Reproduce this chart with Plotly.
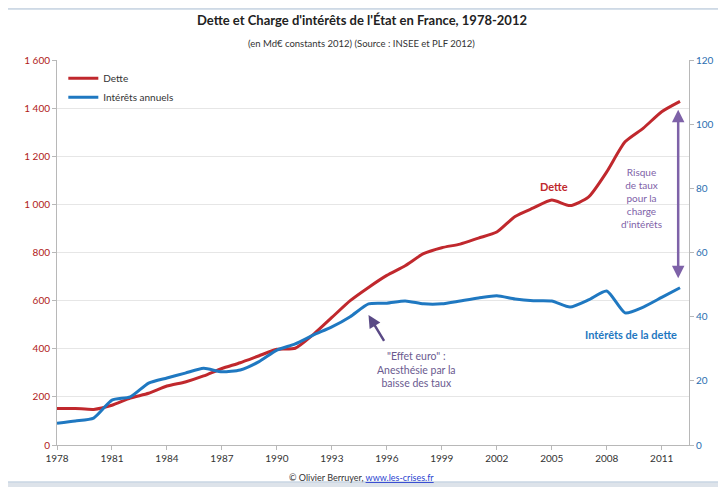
import plotly.graph_objects as go

years = list(range(1978, 2013))
dette = [152, 152, 148, 165, 195, 215, 245, 262, 287, 318, 342, 370, 398, 402,
         460, 530, 600, 655, 705, 745, 795, 820, 835, 860, 885, 950, 985, 1018,
         995, 1030, 1135, 1260, 1317, 1385, 1428]
interets = [6.8, 7.5, 8.4, 14.0, 15.0, 19.3, 20.9, 22.4, 23.9, 22.8, 23.4, 25.9,
            29.6, 31.5, 34.3, 36.8, 40.0, 44.0, 44.2, 44.9, 44.0, 44.0, 44.9, 45.8,
            46.5, 45.5, 45.0, 44.9, 43.0, 45.2, 48.0, 41.2, 43.0, 46.0, 49.0]

x_ticks = list(range(1978, 2012, 3))
left_ticks = [0, 200, 400, 600, 800, 1000, 1200, 1400, 1600]
left_labels = ["0", "200", "400", "600", "800", "1 000", "1 200", "1 400", "1 600"]
right_ticks = [0, 20, 40, 60, 80, 100, 120]

RED = "#C0282D"
BLUE = "#1F78C1"
PURPLE = "#7E62A8"
FONT = "Lato"

fig = go.Figure()
fig.add_trace(go.Scatter(x=years, y=dette, name="Dette", mode="lines",
                         line=dict(color=RED, width=3, shape="spline", smoothing=0.6)))
fig.add_trace(go.Scatter(x=years, y=interets, name="Intérêts annuels", mode="lines",
                         yaxis="y2",
                         line=dict(color=BLUE, width=3, shape="spline", smoothing=0.6)))

# page coordinates: plot area x 57..692 px, y 60..445 px (page has 8px body margin)
def px(x):
    return (x - 57) / 635.0

def py(y):
    return (445 - y) / 385.0

shapes = [
    dict(type="rect", xref="paper", yref="paper", x0=px(6), x1=px(740), y0=py(482), y1=py(9),
         fillcolor="white", line=dict(color="#c9d6e3", width=1.5), layer="below"),
]

C = dict(xanchor="center", yanchor="middle")

annotations = [
    dict(text="<b>Dette et Charge d'intérêts de l'État en France, 1978-2012</b>",
         xref="paper", yref="paper", x=px(363), y=py(20), showarrow=False,
         font=dict(family=FONT, size=13, color="#222"), **C),
    dict(text="(en Md€ constants 2012) (Source : INSEE et PLF 2012)",
         xref="paper", yref="paper", x=px(363), y=py(44), showarrow=False,
         font=dict(family=FONT, size=9.5, color="#333"), **C),
    dict(text="© Olivier Berruyer, <span style='color:#2a3fd0;text-decoration:underline'>www.les-crises.fr</span>",
         xref="paper", yref="paper", x=px(363), y=py(477), showarrow=False,
         font=dict(family=FONT, size=9, color="#333"), **C),
    dict(text="<b>Dette</b>", x=2005.1, y=1075, xref="x", yref="y", showarrow=False,
         font=dict(family=FONT, size=11, color=RED), **C),
    dict(text="<b>Intérêts de la dette</b>", x=2009.3, y=34.5, xref="x", yref="y2",
         showarrow=False, font=dict(family=FONT, size=11, color=BLUE), **C),
    dict(text="\"Effet euro\" :<br>Anesthésie par la<br>baisse des taux",
         x=1997.6, y=23.5, xref="x", yref="y2", showarrow=False,
         font=dict(family=FONT, size=10.5, color="#6a5a8f"), **C),
    dict(text="", x=1995.0, y=40.5, xref="x", yref="y2", ax=1995.9, ay=32.0,
         axref="x", ayref="y2", showarrow=True, arrowhead=2, arrowsize=1,
         arrowwidth=2.5, arrowcolor="#5a4a86"),
    dict(text="Risque<br>de taux<br>pour la<br>charge<br>d'intérêts",
         x=2009.9, y=77, xref="x", yref="y2", showarrow=False,
         font=dict(family=FONT, size=10, color=PURPLE), **C),
    dict(text="", x=2011.9, y=104.5, xref="x", yref="y2", ax=2011.9, ay=51.5,
         axref="x", ayref="y2", showarrow=True, arrowhead=2, startarrowhead=2,
         arrowside="end+start", arrowsize=1, arrowwidth=2.5, arrowcolor=PURPLE),
]

fig.update_layout(
    width=718, height=479,
    margin=dict(l=49, r=34, t=52, b=42),
    paper_bgcolor="#dde3ea",
    plot_bgcolor="white",
    showlegend=True,
    legend=dict(x=0.01, y=0.99, xanchor="left", yanchor="top",
                bgcolor="rgba(0,0,0,0)", font=dict(family=FONT, size=10, color="#333"),
                itemwidth=30, tracegroupgap=2),
    xaxis=dict(range=[1978, 2012.49], tickmode="array", tickvals=x_ticks,
               showgrid=False, zeroline=False, showline=True, linecolor="#b8b8b8",
               ticks="outside", ticklen=4, tickcolor="#b8b8b8",
               tickfont=dict(family=FONT, size=10, color="#333")),
    yaxis=dict(range=[0, 1600], tickmode="array", tickvals=left_ticks, ticktext=left_labels,
               showgrid=True, gridcolor="#e6e6e6", zeroline=False, showline=True,
               linecolor="#b8b8b8", ticks="outside", ticklen=4, tickcolor="#b8b8b8",
               tickfont=dict(family=FONT, size=10, color="#B02020")),
    yaxis2=dict(range=[0, 120], tickmode="array", tickvals=right_ticks, overlaying="y",
                side="right", showgrid=False, zeroline=False, showline=True,
                linecolor="#b8b8b8", ticks="outside", ticklen=4, tickcolor="#b8b8b8",
                tickfont=dict(family=FONT, size=10, color="#2A6EB0")),
    shapes=shapes,
    annotations=annotations,
)

fig.write_html("out.html")
